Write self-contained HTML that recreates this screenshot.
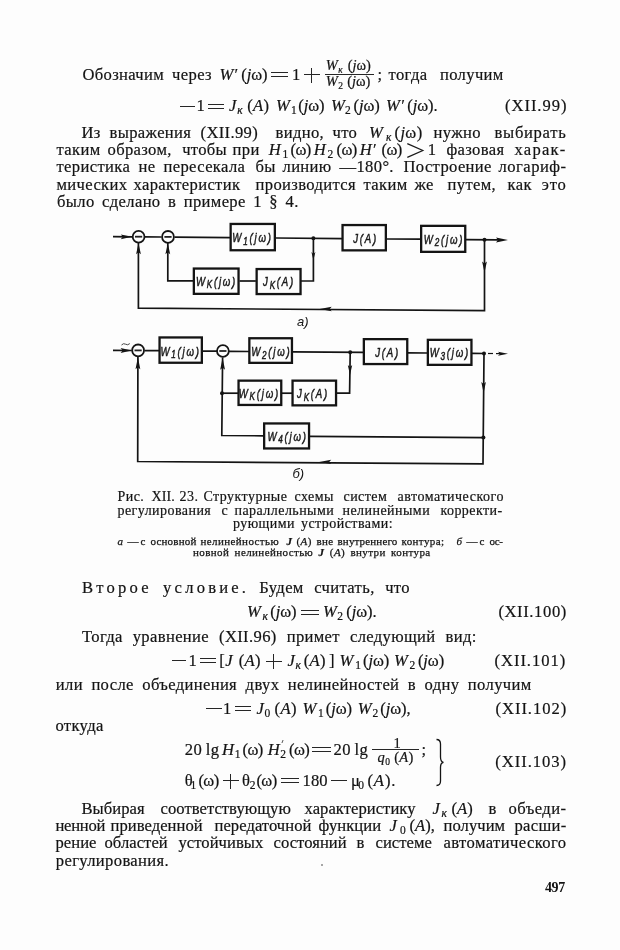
<!DOCTYPE html>
<html><head><meta charset="utf-8">
<style>
html,body{margin:0;padding:0;background:#fdfdfd;}
body{width:620px;height:950px;position:relative;overflow:hidden;font-family:"Liberation Serif",serif;color:#141414;filter:grayscale(1);}
.l{position:absolute;white-space:nowrap;font-size:16.6px;letter-spacing:0.35px;line-height:20px;height:20px;transform-origin:0 15px;transform:scaleY(1.06);-webkit-text-stroke:0.2px #111;}
.j{text-align:justify;text-align-last:justify;white-space:normal;}
i{font-style:italic;}
.s{font-size:11.5px;position:relative;top:3px;}
.jw{letter-spacing:-0.1px;}
.om{letter-spacing:-0.6px;}
.jw2{letter-spacing:0px;}
.r{position:absolute;}
.fr{position:absolute;white-space:nowrap;font-size:14.5px;letter-spacing:0.3px;line-height:16px;height:16px;-webkit-text-stroke:0.2px #141414;}
.fs{font-size:9.5px;position:relative;top:2.5px;}
.c{position:absolute;white-space:nowrap;font-size:14px;letter-spacing:0.45px;line-height:16px;height:16px;-webkit-text-stroke:0.2px #141414;}
.cs{position:absolute;white-space:nowrap;font-size:11px;letter-spacing:0.4px;line-height:14px;height:14px;-webkit-text-stroke:0.25px #141414;}
.cj{text-align:justify;text-align-last:justify;white-space:normal;}
.pg{position:absolute;font-size:14px;font-weight:bold;line-height:16px;}
svg{position:absolute;left:0;top:0;}
</style></head><body>
<div class="l" style="left:82.4px;top:64.7px;word-spacing:3.5px">Обозначим через</div>
<div class="l" style="left:219.4px;top:64.7px;"><i>W′</i></div>
<div class="l" style="left:241.2px;top:64.7px;"><span class="jw">(<i>j</i>ω)</span></div>
<div class="r" style="left:271px;top:72px;width:16.5px;height:1.1px;background:#262626"></div>
<div class="r" style="left:271px;top:76px;width:16.5px;height:1.1px;background:#262626"></div>
<div class="l" style="left:292px;top:64.7px;">1</div>
<div class="r" style="left:304px;top:74px;width:15.7px;height:1.1px;background:#262626"></div>
<div class="r" style="left:311px;top:67.5px;width:1.1px;height:15.3px;background:#262626"></div>
<div class="fr" style="left:325.8px;top:57.3px;"><i>W</i><span class="fs"><i>к</i></span></div>
<div class="fr" style="left:347.7px;top:57.3px;"><span class="jw2">(<i>j</i>ω)</span></div>
<div class="r" style="left:325.2px;top:74px;width:49.0px;height:1.1px;background:#262626"></div>
<div class="fr" style="left:325.8px;top:73.3px;"><i>W</i><span class="fs">2</span></div>
<div class="fr" style="left:347.2px;top:73.3px;"><span class="jw2">(<i>j</i>ω)</span></div>
<div class="l" style="left:377.4px;top:64.7px;">;</div>
<div class="l" style="left:388.6px;top:64.7px;word-spacing:8px">тогда получим</div>
<div class="r" style="left:180px;top:106px;width:14.5px;height:1.1px;background:#262626"></div>
<div class="l" style="left:196.5px;top:96.2px;">1</div>
<div class="r" style="left:207.8px;top:104px;width:16.4px;height:1.1px;background:#262626"></div>
<div class="r" style="left:207.8px;top:108px;width:16.4px;height:1.1px;background:#262626"></div>
<div class="l" style="left:229px;top:96.2px;"><i>J</i></div>
<div class="l" style="left:237.3px;top:96.2px;"><span class="s"><i>к</i></span></div>
<div class="l" style="left:247.2px;top:96.2px;">(<i>A</i>)</div>
<div class="l" style="left:276px;top:96.2px;"><i>W</i></div>
<div class="l" style="left:291px;top:96.2px;"><span class="s">1</span></div>
<div class="l" style="left:298.2px;top:96.2px;"><span class="jw">(<i>j</i>ω)</span></div>
<div class="l" style="left:331px;top:96.2px;"><i>W</i></div>
<div class="l" style="left:345px;top:96.2px;"><span class="s">2</span></div>
<div class="l" style="left:353.6px;top:96.2px;"><span class="jw">(<i>j</i>ω)</span></div>
<div class="l" style="left:386px;top:96.2px;"><i>W′</i></div>
<div class="l" style="left:407.2px;top:96.2px;"><span class="jw">(<i>j</i>ω)</span>.</div>
<div class="l" style="left:505px;top:96.2px;letter-spacing:0.95px">(XII.99)</div>
<div class="l" style="left:81.5px;top:123.1px;letter-spacing:0.35px;">Из</div>
<div class="l" style="left:109.5px;top:123.1px;letter-spacing:0.35px;">выражения</div>
<div class="l" style="left:200.5px;top:123.1px;letter-spacing:0.35px;">(XII.99)</div>
<div class="l" style="left:275.5px;top:123.1px;letter-spacing:0.35px;">видно,</div>
<div class="l" style="left:332.5px;top:123.1px;letter-spacing:0.35px;">что</div>
<div class="l" style="left:369.0px;top:123.1px;letter-spacing:0.35px;"><i>W</i></div>
<div class="l" style="left:386.0px;top:123.1px;letter-spacing:0.35px;"><span class="s"><i>к</i></span></div>
<div class="l" style="left:394.5px;top:123.1px;letter-spacing:0.35px;">(<i>j</i>ω)</div>
<div class="l" style="left:433.5px;top:123.1px;letter-spacing:0.35px;">нужно</div>
<div class="l" style="left:494.5px;top:123.1px;letter-spacing:0.70px;">выбирать</div>
<div class="l" style="left:56.5px;top:140.3px;letter-spacing:0.35px;">таким</div>
<div class="l" style="left:107.5px;top:140.3px;letter-spacing:0.35px;">образом,</div>
<div class="l" style="left:182.2px;top:140.3px;letter-spacing:0.30px;">чтобы</div>
<div class="l" style="left:232.5px;top:140.3px;letter-spacing:0.35px;">при</div>
<div class="l" style="left:268.7px;top:140.3px;letter-spacing:0.35px;"><i>H</i></div>
<div class="l" style="left:282.5px;top:140.3px;letter-spacing:0.35px;"><span class="s">1</span></div>
<div class="l" style="left:290.5px;top:140.3px;letter-spacing:0.35px;"><span class="om">(ω)</span></div>
<div class="l" style="left:313.7px;top:140.3px;letter-spacing:0.35px;"><i>H</i></div>
<div class="l" style="left:327.5px;top:140.3px;letter-spacing:0.35px;"><span class="s">2</span></div>
<div class="l" style="left:336.5px;top:140.3px;letter-spacing:0.35px;"><span class="om">(ω)</span></div>
<div class="l" style="left:359.7px;top:140.3px;letter-spacing:0.35px;"><i>H′</i></div>
<div class="l" style="left:381.5px;top:140.3px;letter-spacing:0.35px;"><span class="om">(ω)</span></div>
<div class="l" style="left:427.8px;top:140.3px;letter-spacing:0.35px;">1</div>
<div class="l" style="left:446.5px;top:140.3px;letter-spacing:0.35px;">фазовая</div>
<div class="l" style="left:514.5px;top:140.3px;letter-spacing:1.22px;">харак-</div>
<div class="l" style="left:56.5px;top:157.4px;letter-spacing:0.35px;">теристика</div>
<div class="l" style="left:138.5px;top:157.4px;letter-spacing:0.35px;">не</div>
<div class="l" style="left:163.5px;top:157.4px;letter-spacing:0.35px;">пересекала</div>
<div class="l" style="left:255.5px;top:157.4px;letter-spacing:0.35px;">бы</div>
<div class="l" style="left:282.5px;top:157.4px;letter-spacing:0.35px;">линию</div>
<div class="l" style="left:339.5px;top:157.4px;letter-spacing:0.35px;">—180°.</div>
<div class="l" style="left:403.5px;top:157.4px;letter-spacing:0.35px;">Построение</div>
<div class="l" style="left:498.5px;top:157.4px;letter-spacing:0.47px;">логариф-</div>
<div class="l" style="left:56.5px;top:174.5px;letter-spacing:0.35px;">мических</div>
<div class="l" style="left:133.5px;top:174.5px;letter-spacing:0.35px;">характеристик</div>
<div class="l" style="left:255.5px;top:174.5px;letter-spacing:0.35px;">производится</div>
<div class="l" style="left:363.5px;top:174.5px;letter-spacing:0.35px;">таким</div>
<div class="l" style="left:414.5px;top:174.5px;letter-spacing:0.35px;">же</div>
<div class="l" style="left:447.5px;top:174.5px;letter-spacing:0.35px;">путем,</div>
<div class="l" style="left:507.5px;top:174.5px;letter-spacing:0.35px;">как</div>
<div class="l" style="left:541.8px;top:174.5px;letter-spacing:0.75px;">это</div>
<svg width="20" height="20" style="position:absolute;left:405px;top:140px" viewBox="405 140 20 20"><path d="M407.3,143.6 L422.8,150.5 L407.3,157.4" fill="none" stroke="#1a1a1a" stroke-width="1.25"/></svg>
<div class="l" style="left:57px;top:191.6px;word-spacing:3px">было сделано в примере 1 § 4.</div>
<div class="c" style="left:117.5px;top:488.7px;letter-spacing:0.45px;">Рис.</div>
<div class="c" style="left:151.5px;top:488.7px;letter-spacing:0.14px;">XII.</div>
<div class="c" style="left:179.5px;top:488.7px;letter-spacing:0.45px;">23.</div>
<div class="c" style="left:203.5px;top:488.7px;letter-spacing:0.45px;">Структурные</div>
<div class="c" style="left:294.5px;top:488.7px;letter-spacing:0.45px;">схемы</div>
<div class="c" style="left:343.5px;top:488.7px;letter-spacing:0.45px;">систем</div>
<div class="c" style="left:397.5px;top:488.7px;letter-spacing:0.52px;">автоматического</div>
<div class="c" style="left:117.5px;top:502.7px;letter-spacing:0.45px;">регулирования</div>
<div class="c" style="left:221.5px;top:502.7px;letter-spacing:0.45px;">с</div>
<div class="c" style="left:234.5px;top:502.7px;letter-spacing:0.45px;">параллельными</div>
<div class="c" style="left:342.5px;top:502.7px;letter-spacing:0.45px;">нелинейными</div>
<div class="c" style="left:440.5px;top:502.7px;letter-spacing:0.42px;">корректи-</div>
<div class="c" style="left:233px;top:516.0px;word-spacing:2px">рующими устройствами:</div>
<div class="cs" style="left:117.5px;top:534.2px;letter-spacing:0.40px;"><i>а</i></div>
<div class="cs" style="left:127.5px;top:534.2px;letter-spacing:-0.80px;">—</div>
<div class="cs" style="left:140.5px;top:534.2px;letter-spacing:0.40px;">с</div>
<div class="cs" style="left:150.5px;top:534.2px;letter-spacing:0.19px;">основной</div>
<div class="cs" style="left:200.5px;top:534.2px;letter-spacing:0.40px;">нелинейностью</div>
<div class="cs" style="left:286.5px;top:534.2px;letter-spacing:0.40px;"><b><i>J</i></b></div>
<div class="cs" style="left:296.5px;top:534.2px;letter-spacing:0.40px;">(<i>A</i>)</div>
<div class="cs" style="left:316.5px;top:534.2px;letter-spacing:0.35px;">вне</div>
<div class="cs" style="left:337.5px;top:534.2px;letter-spacing:0.15px;">внутреннего</div>
<div class="cs" style="left:401.5px;top:534.2px;letter-spacing:0.40px;">контура;</div>
<div class="cs" style="left:456.5px;top:534.2px;letter-spacing:0.40px;"><i>б</i></div>
<div class="cs" style="left:466.5px;top:534.2px;letter-spacing:-0.80px;">—</div>
<div class="cs" style="left:479.5px;top:534.2px;letter-spacing:0.40px;">с</div>
<div class="cs" style="left:489.5px;top:534.2px;letter-spacing:-0.44px;">ос-</div>
<div class="cs" style="left:193px;top:544.5px;word-spacing:2.2px">новной нелинейностью <b><i>J</i></b> (<i>A</i>) внутри контура</div>
<div class="l" style="left:82px;top:578.3px;letter-spacing:3.2px;word-spacing:4px">Второе условие<span style="letter-spacing:0">.</span></div>
<div class="l" style="left:259.3px;top:578.3px;word-spacing:6px">Будем считать, что</div>
<div class="l" style="left:247.1px;top:602.3px;"><i>W</i></div>
<div class="l" style="left:262.6px;top:602.3px;"><span class="s"><i>к</i></span></div>
<div class="l" style="left:270.3px;top:602.3px;"><span class="jw">(<i>j</i>ω)</span></div>
<div class="r" style="left:301.3px;top:610px;width:17.4px;height:1.1px;background:#262626"></div>
<div class="r" style="left:301.3px;top:614px;width:17.4px;height:1.1px;background:#262626"></div>
<div class="l" style="left:323px;top:602.3px;"><i>W</i></div>
<div class="l" style="left:337.3px;top:602.3px;"><span class="s">2</span></div>
<div class="l" style="left:346.2px;top:602.3px;"><span class="jw">(<i>j</i>ω)</span>.</div>
<div class="l" style="left:498.4px;top:602.3px;letter-spacing:0.6px">(XII.100)</div>
<div class="l" style="left:82px;top:626.9px;word-spacing:5.5px">Тогда уравнение (XII.96) примет следующий вид:</div>
<div class="r" style="left:172px;top:660px;width:13.7px;height:1.1px;background:#262626"></div>
<div class="l" style="left:188.5px;top:651.1px;">1</div>
<div class="r" style="left:199.5px;top:658px;width:16.9px;height:1.1px;background:#262626"></div>
<div class="r" style="left:199.5px;top:662px;width:16.9px;height:1.1px;background:#262626"></div>
<div class="l" style="left:219.3px;top:651.1px;">[<i>J</i></div>
<div class="l" style="left:238.7px;top:651.1px;">(<i>A</i>)</div>
<div class="r" style="left:266px;top:661px;width:15.8px;height:1.1px;background:#262626"></div>
<div class="r" style="left:273px;top:653.9px;width:1.1px;height:15.3px;background:#262626"></div>
<div class="l" style="left:287.4px;top:651.1px;"><i>J</i></div>
<div class="l" style="left:295.5px;top:651.1px;"><span class="s"><i>к</i></span></div>
<div class="l" style="left:303.7px;top:651.1px;">(<i>A</i>)</div>
<div class="l" style="left:329px;top:651.1px;">]</div>
<div class="l" style="left:339.6px;top:651.1px;"><i>W</i></div>
<div class="l" style="left:355.3px;top:651.1px;"><span class="s">1</span></div>
<div class="l" style="left:363px;top:651.1px;"><span class="jw">(<i>j</i>ω)</span></div>
<div class="l" style="left:394px;top:651.1px;"><i>W</i></div>
<div class="l" style="left:409.4px;top:651.1px;"><span class="s">2</span></div>
<div class="l" style="left:417.9px;top:651.1px;"><span class="jw">(<i>j</i>ω)</span></div>
<div class="l" style="left:494.5px;top:651.1px;letter-spacing:0.95px">(XII.101)</div>
<div class="l" style="left:55.8px;top:675.2px;word-spacing:4px">или после объединения двух нелинейностей в одну получим</div>
<div class="r" style="left:206.3px;top:708px;width:15.5px;height:1.1px;background:#262626"></div>
<div class="l" style="left:223px;top:698.7px;">1</div>
<div class="r" style="left:235.3px;top:706px;width:16.0px;height:1.1px;background:#262626"></div>
<div class="r" style="left:235.3px;top:710px;width:16.0px;height:1.1px;background:#262626"></div>
<div class="l" style="left:256.4px;top:698.7px;"><i>J</i></div>
<div class="l" style="left:264.5px;top:698.7px;"><span class="s">0</span></div>
<div class="l" style="left:274.5px;top:698.7px;">(<i>A</i>)</div>
<div class="l" style="left:302.6px;top:698.7px;"><i>W</i></div>
<div class="l" style="left:318px;top:698.7px;"><span class="s">1</span></div>
<div class="l" style="left:325.8px;top:698.7px;"><span class="jw">(<i>j</i>ω)</span></div>
<div class="l" style="left:357.8px;top:698.7px;"><i>W</i></div>
<div class="l" style="left:372.5px;top:698.7px;"><span class="s">2</span></div>
<div class="l" style="left:380.3px;top:698.7px;"><span class="jw">(<i>j</i>ω)</span>,</div>
<div class="l" style="left:495.5px;top:698.7px;letter-spacing:0.95px">(XII.102)</div>
<div class="l" style="left:55.4px;top:715.8px;">откуда</div>
<div class="l" style="left:184.8px;top:739.8px;">20</div>
<div class="l" style="left:205.8px;top:739.8px;">lg</div>
<div class="l" style="left:221.9px;top:739.8px;"><i>H</i></div>
<div class="l" style="left:234.8px;top:739.8px;"><span class="s">1</span></div>
<div class="l" style="left:242.6px;top:739.8px;"><span class="om">(ω)</span></div>
<div class="l" style="left:267.7px;top:739.8px;"><i>H</i></div>
<div class="l" style="left:280.3px;top:739.8px;"><span class="s">2</span></div>
<div class="l" style="left:289px;top:739.8px;"><span class="om">(ω)</span></div>
<div class="r" style="left:281.6px;top:739.5px;width:1px;height:3px;background:#555;transform:skewX(-20deg)"></div>
<div class="r" style="left:312.3px;top:747px;width:18.3px;height:1.1px;background:#262626"></div>
<div class="r" style="left:312.3px;top:751px;width:18.3px;height:1.1px;background:#262626"></div>
<div class="l" style="left:333.5px;top:739.8px;">20</div>
<div class="l" style="left:354.5px;top:739.8px;">lg</div>
<div class="fr" style="left:393.5px;top:734.8px;">1</div>
<div class="r" style="left:372.4px;top:749px;width:46.9px;height:1.1px;background:#262626"></div>
<div class="fr" style="left:377.6px;top:749.4px;"><i>q</i><span class="fs">0</span> (<i>A</i>)</div>
<div class="l" style="left:421.6px;top:739.8px;">;</div>
<div class="l" style="left:184.8px;top:770.7px;">θ</div>
<div class="l" style="left:190.6px;top:770.7px;"><span class="s">1</span></div>
<div class="l" style="left:198.4px;top:770.7px;"><span class="om">(ω)</span></div>
<div class="r" style="left:223px;top:780px;width:16.0px;height:1.1px;background:#262626"></div>
<div class="r" style="left:230px;top:773.5px;width:1.1px;height:15.3px;background:#262626"></div>
<div class="l" style="left:242px;top:770.7px;">θ</div>
<div class="l" style="left:249.7px;top:770.7px;"><span class="s">2</span></div>
<div class="l" style="left:256.4px;top:770.7px;"><span class="om">(ω)</span></div>
<div class="r" style="left:280.6px;top:778px;width:18.1px;height:1.1px;background:#262626"></div>
<div class="r" style="left:280.6px;top:782px;width:18.1px;height:1.1px;background:#262626"></div>
<div class="l" style="left:302.6px;top:770.7px;letter-spacing:0">180</div>
<div class="r" style="left:330.8px;top:780px;width:16.0px;height:1.1px;background:#262626"></div>
<div class="l" style="left:351px;top:770.7px;">μ</div>
<div class="l" style="left:358.3px;top:770.7px;"><span class="s">0</span></div>
<div class="l" style="left:367.4px;top:770.7px;letter-spacing:0.9px">(<i>A</i>).</div>
<div class="l" style="left:495.3px;top:751.8px;letter-spacing:0.95px">(XII.103)</div>
<svg class="br" width="20" height="60" style="position:absolute;left:430px;top:735px" viewBox="430 735 20 60"><path d="M436.5,739.5 Q440.5,739.5 440.5,744 L440.5,757 Q440.5,762 443.5,762.3 Q440.5,762.6 440.5,767.5 L440.5,781 Q440.5,785.5 436.5,785.5" fill="none" stroke="#141414" stroke-width="1.3"/></svg>
<div class="l" style="left:81.5px;top:799.2px;letter-spacing:0.05px;">Выбирая</div>
<div class="l" style="left:160.5px;top:799.2px;letter-spacing:0.05px;">соответствующую</div>
<div class="l" style="left:304.5px;top:799.2px;letter-spacing:0.05px;">характеристику</div>
<div class="l" style="left:432.5px;top:799.2px;letter-spacing:0.05px;"><i>J</i></div>
<div class="l" style="left:441.5px;top:799.2px;letter-spacing:0.05px;"><span class="s"><i>к</i></span></div>
<div class="l" style="left:451.5px;top:799.2px;letter-spacing:0.05px;">(<i>A</i>)</div>
<div class="l" style="left:488.5px;top:799.2px;letter-spacing:0.05px;">в</div>
<div class="l" style="left:508.5px;top:799.2px;letter-spacing:0.44px;">объеди-</div>
<div class="l" style="left:55.5px;top:816.4px;letter-spacing:-0.28px;">ненной</div>
<div class="l" style="left:110.5px;top:816.4px;letter-spacing:0.05px;">приведенной</div>
<div class="l" style="left:214.5px;top:816.4px;letter-spacing:0.05px;">передаточной</div>
<div class="l" style="left:318.5px;top:816.4px;letter-spacing:0.05px;">функции</div>
<div class="l" style="left:389.5px;top:816.4px;letter-spacing:0.05px;"><i>J</i></div>
<div class="l" style="left:400.0px;top:816.4px;letter-spacing:0.05px;"><span class="s">0</span></div>
<div class="l" style="left:409.5px;top:816.4px;letter-spacing:0.05px;">(<i>A</i>),</div>
<div class="l" style="left:443.5px;top:816.4px;letter-spacing:0.05px;">получим</div>
<div class="l" style="left:514.5px;top:816.4px;letter-spacing:0.30px;">расши-</div>
<div class="l" style="left:55.5px;top:833.4px;letter-spacing:0.05px;">рение</div>
<div class="l" style="left:104.5px;top:833.4px;letter-spacing:0.05px;">областей</div>
<div class="l" style="left:178.5px;top:833.4px;letter-spacing:0.05px;">устойчивых</div>
<div class="l" style="left:273.5px;top:833.4px;letter-spacing:0.05px;">состояний</div>
<div class="l" style="left:356.5px;top:833.4px;letter-spacing:0.05px;">в</div>
<div class="l" style="left:375.5px;top:833.4px;letter-spacing:0.05px;">системе</div>
<div class="l" style="left:443.5px;top:833.4px;letter-spacing:0.40px;">автоматического</div>
<div class="l" style="left:55.8px;top:850.8px;">регулирования.</div>
<div class="r" style="left:320.5px;top:864px;width:2px;height:1.6px;background:#888;border-radius:1px"></div>
<div class="pg" style="left:545px;top:880px;letter-spacing:-0.4px">497</div>
<svg width="620" height="950" viewBox="0 0 620 950" id="dg">
<path d="M113.0,236.6 L132.0,236.8" fill="none" stroke="#141414" stroke-width="1.7" stroke-linejoin="miter"/>
<path d="M145.0,236.9 L161.5,237.0" fill="none" stroke="#141414" stroke-width="1.7" stroke-linejoin="miter"/>
<path d="M174.5,237.1 L230.0,237.6" fill="none" stroke="#141414" stroke-width="1.7" stroke-linejoin="miter"/>
<path d="M276.0,238.0 L342.0,238.6" fill="none" stroke="#141414" stroke-width="1.7" stroke-linejoin="miter"/>
<path d="M386.5,239.0 L421.0,239.2" fill="none" stroke="#141414" stroke-width="1.7" stroke-linejoin="miter"/>
<path d="M465.5,239.6 L498.0,239.9" fill="none" stroke="#141414" stroke-width="1.7" stroke-linejoin="miter"/>
<path d="M131.8,236.8 L120.8,234.4 L122.8,236.8 L120.8,239.2Z" fill="#141414"/>
<path d="M508.0,240.0 L496.0,237.6 L498.0,240.0 L496.0,242.4Z" fill="#141414"/>
<circle cx="138.6" cy="236.7" r="5.9" fill="#fdfdfd" stroke="#141414" stroke-width="1.8"/>
<path d="M135.0,236.7 L142.2,236.7" stroke="#222" stroke-width="1.8"/>
<circle cx="168" cy="236.9" r="5.9" fill="#fdfdfd" stroke="#141414" stroke-width="1.8"/>
<path d="M164.4,236.9 L171.6,236.9" stroke="#222" stroke-width="1.8"/>
<rect x="230.65" y="223.95" width="44.20" height="26.30" fill="#fdfdfd" stroke="#141414" stroke-width="2.3"/>
<rect x="342.55" y="225.05" width="43.30" height="25.30" fill="#fdfdfd" stroke="#141414" stroke-width="2.3"/>
<rect x="421.15" y="225.85" width="44.10" height="26.00" fill="#fdfdfd" stroke="#141414" stroke-width="2.3"/>
<rect x="193.85" y="268.55" width="44.70" height="25.30" fill="#fdfdfd" stroke="#141414" stroke-width="2.3"/>
<rect x="256.65" y="269.05" width="43.90" height="25.00" fill="#fdfdfd" stroke="#141414" stroke-width="2.3"/>
<circle cx="313.4" cy="238.32344" r="2.0" fill="#141414"/>
<circle cx="484.5" cy="239.79489999999998" r="2.0" fill="#141414"/>
<path d="M313.4,238.3 L313.4,281.0 L301.0,281.0" fill="none" stroke="#141414" stroke-width="1.7" stroke-linejoin="miter"/>
<path d="M313.4,260.0 L311.4,252.0 L313.4,254.0 L315.4,252.0Z" fill="#141414"/>
<path d="M239.5,281.0 L256.0,281.0" fill="none" stroke="#141414" stroke-width="1.7" stroke-linejoin="miter"/>
<path d="M193.0,280.8 L167.8,280.8 L167.8,243.0" fill="none" stroke="#141414" stroke-width="1.7" stroke-linejoin="miter"/>
<path d="M167.8,243.2 L165.4,254.2 L167.8,252.2 L170.2,254.2Z" fill="#141414"/>
<path d="M484.5,239.8 L484.5,310.6 L138.4,308.2 L138.4,243.0" fill="none" stroke="#141414" stroke-width="1.7" stroke-linejoin="miter"/>
<path d="M484.5,272.6 L482.1,261.6 L484.5,263.6 L486.9,261.6Z" fill="#141414"/>
<path d="M319.7,309.0 L331.7,306.8 L329.7,309.0 L331.7,311.2Z" fill="#141414"/>
<path d="M138.5,243.2 L136.1,254.2 L138.5,252.2 L140.9,254.2Z" fill="#141414"/>
<text x="297" y="326" font-family="Liberation Sans" font-style="italic" font-size="13" fill="#141414">а)</text>
<text x="0" y="0" transform="translate(252.5,242) scale(0.74,1)" text-anchor="middle" font-family="Liberation Sans" font-style="italic" font-size="13" letter-spacing="2.4" fill="#1a1a1a" stroke="#1a1a1a" stroke-width="0.5">W<tspan font-size="11.0" dy="2.8">1</tspan><tspan dy="-2.8">(jω)</tspan></text>
<text x="0" y="0" transform="translate(365.5,242.5) scale(0.74,1)" text-anchor="middle" font-family="Liberation Sans" font-style="italic" font-size="13" letter-spacing="2.4" fill="#1a1a1a" stroke="#1a1a1a" stroke-width="0.5">J(A)</text>
<text x="0" y="0" transform="translate(444,243.5) scale(0.74,1)" text-anchor="middle" font-family="Liberation Sans" font-style="italic" font-size="13" letter-spacing="2.4" fill="#1a1a1a" stroke="#1a1a1a" stroke-width="0.5">W<tspan font-size="11.0" dy="2.8">2</tspan><tspan dy="-2.8">(jω)</tspan></text>
<text x="0" y="0" transform="translate(216.5,285.5) scale(0.74,1)" text-anchor="middle" font-family="Liberation Sans" font-style="italic" font-size="13" letter-spacing="2.4" fill="#1a1a1a" stroke="#1a1a1a" stroke-width="0.5">W<tspan font-size="11.0" dy="2.8">K</tspan><tspan dy="-2.8">(jω)</tspan></text>
<text x="0" y="0" transform="translate(279,286) scale(0.74,1)" text-anchor="middle" font-family="Liberation Sans" font-style="italic" font-size="13" letter-spacing="2.4" fill="#1a1a1a" stroke="#1a1a1a" stroke-width="0.5">J<tspan font-size="11.0" dy="2.8">K</tspan><tspan dy="-2.8">(A)</tspan></text>
<path d="M113.0,350.3 L131.8,350.5" fill="none" stroke="#141414" stroke-width="1.7" stroke-linejoin="miter"/>
<path d="M144.5,350.6 L159.0,350.7" fill="none" stroke="#141414" stroke-width="1.7" stroke-linejoin="miter"/>
<path d="M202.5,351.1 L217.0,351.2" fill="none" stroke="#141414" stroke-width="1.7" stroke-linejoin="miter"/>
<path d="M229.0,351.3 L249.0,351.5" fill="none" stroke="#141414" stroke-width="1.7" stroke-linejoin="miter"/>
<path d="M292.5,351.8 L363.0,352.4" fill="none" stroke="#141414" stroke-width="1.7" stroke-linejoin="miter"/>
<path d="M408.0,352.8 L427.0,353.0" fill="none" stroke="#141414" stroke-width="1.7" stroke-linejoin="miter"/>
<path d="M472.0,353.4 L485.0,353.5" fill="none" stroke="#141414" stroke-width="1.7" stroke-linejoin="miter"/>
<path d="M488.0,353.5 L493.0,353.5" fill="none" stroke="#141414" stroke-width="1.2" stroke-linejoin="miter"/>
<path d="M496.0,353.6 L500.0,353.6" fill="none" stroke="#141414" stroke-width="1.2" stroke-linejoin="miter"/>
<path d="M508.0,353.7 L498.0,351.7 L500.0,353.7 L498.0,355.7Z" fill="#141414"/>
<path d="M131.6,350.5 L120.6,348.1 L122.6,350.5 L120.6,352.9Z" fill="#141414"/>
<path d="M121.5,345 Q123.5,342.8 125.6,344.2 Q127.6,345.6 129.8,343.6" fill="none" stroke="#444" stroke-width="1"/>
<circle cx="138.1" cy="350.4" r="5.9" fill="#fdfdfd" stroke="#141414" stroke-width="1.8"/>
<path d="M134.5,350.4 L141.7,350.4" stroke="#222" stroke-width="1.8"/>
<circle cx="222.9" cy="351.0" r="5.9" fill="#fdfdfd" stroke="#141414" stroke-width="1.8"/>
<path d="M219.3,351.0 L226.5,351.0" stroke="#222" stroke-width="1.8"/>
<rect x="159.55" y="337.45" width="42.30" height="25.30" fill="#fdfdfd" stroke="#141414" stroke-width="2.3"/>
<rect x="249.35" y="338.25" width="42.60" height="24.60" fill="#fdfdfd" stroke="#141414" stroke-width="2.3"/>
<rect x="363.85" y="339.15" width="43.40" height="24.90" fill="#fdfdfd" stroke="#141414" stroke-width="2.3"/>
<rect x="427.85" y="339.85" width="43.60" height="25.00" fill="#fdfdfd" stroke="#141414" stroke-width="2.3"/>
<rect x="238.55" y="380.65" width="42.70" height="24.30" fill="#fdfdfd" stroke="#141414" stroke-width="2.3"/>
<rect x="292.55" y="380.65" width="43.50" height="24.70" fill="#fdfdfd" stroke="#141414" stroke-width="2.3"/>
<rect x="264.15" y="423.45" width="44.90" height="25.00" fill="#fdfdfd" stroke="#141414" stroke-width="2.3"/>
<circle cx="350.2" cy="352.31620000000004" r="2.0" fill="#141414"/>
<circle cx="484" cy="353.4535" r="2.0" fill="#141414"/>
<circle cx="483.4" cy="437.6" r="2.0" fill="#141414"/>
<circle cx="222" cy="393.2" r="2.0" fill="#141414"/>
<path d="M484.0,353.5 L483.0,463.9 L137.7,461.5 L137.9,357.0" fill="none" stroke="#141414" stroke-width="1.7" stroke-linejoin="miter"/>
<path d="M483.4,437.6 L310.0,436.4" fill="none" stroke="#141414" stroke-width="1.7" stroke-linejoin="miter"/>
<path d="M263.5,435.8 L221.8,435.5 L222.6,357.5" fill="none" stroke="#141414" stroke-width="1.7" stroke-linejoin="miter"/>
<path d="M222.0,393.2 L238.0,393.2" fill="none" stroke="#141414" stroke-width="1.7" stroke-linejoin="miter"/>
<path d="M282.0,393.2 L292.0,393.2" fill="none" stroke="#141414" stroke-width="1.7" stroke-linejoin="miter"/>
<path d="M337.0,393.2 L349.6,393.2 L350.2,352.3" fill="none" stroke="#141414" stroke-width="1.7" stroke-linejoin="miter"/>
<path d="M350.0,375.0 L347.8,365.0 L350.0,367.0 L352.2,365.0Z" fill="#141414"/>
<path d="M483.6,393.0 L481.3,382.0 L483.6,384.0 L485.9,382.0Z" fill="#141414"/>
<path d="M319.2,461.9 L331.2,459.7 L329.2,461.9 L331.2,464.1Z" fill="#141414"/>
<path d="M137.9,357.2 L135.5,369.2 L137.9,367.2 L140.3,369.2Z" fill="#141414"/>
<path d="M222.6,357.8 L220.2,369.8 L222.6,367.8 L225.0,369.8Z" fill="#141414"/>
<text x="292.5" y="477.5" font-family="Liberation Sans" font-style="italic" font-size="13" fill="#141414">б)</text>
<text x="0" y="0" transform="translate(180.6,355.5) scale(0.74,1)" text-anchor="middle" font-family="Liberation Sans" font-style="italic" font-size="13" letter-spacing="2.4" fill="#1a1a1a" stroke="#1a1a1a" stroke-width="0.5">W<tspan font-size="11.0" dy="2.8">1</tspan><tspan dy="-2.8">(jω)</tspan></text>
<text x="0" y="0" transform="translate(271.3,356) scale(0.74,1)" text-anchor="middle" font-family="Liberation Sans" font-style="italic" font-size="13" letter-spacing="2.4" fill="#1a1a1a" stroke="#1a1a1a" stroke-width="0.5">W<tspan font-size="11.0" dy="2.8">2</tspan><tspan dy="-2.8">(jω)</tspan></text>
<text x="0" y="0" transform="translate(387.5,356.5) scale(0.74,1)" text-anchor="middle" font-family="Liberation Sans" font-style="italic" font-size="13" letter-spacing="2.4" fill="#1a1a1a" stroke="#1a1a1a" stroke-width="0.5">J(A)</text>
<text x="0" y="0" transform="translate(449.8,357) scale(0.74,1)" text-anchor="middle" font-family="Liberation Sans" font-style="italic" font-size="13" letter-spacing="2.4" fill="#1a1a1a" stroke="#1a1a1a" stroke-width="0.5">W<tspan font-size="11.0" dy="2.8">3</tspan><tspan dy="-2.8">(jω)</tspan></text>
<text x="0" y="0" transform="translate(259.3,397.5) scale(0.74,1)" text-anchor="middle" font-family="Liberation Sans" font-style="italic" font-size="13" letter-spacing="2.4" fill="#1a1a1a" stroke="#1a1a1a" stroke-width="0.5">W<tspan font-size="11.0" dy="2.8">K</tspan><tspan dy="-2.8">(jω)</tspan></text>
<text x="0" y="0" transform="translate(313,398) scale(0.74,1)" text-anchor="middle" font-family="Liberation Sans" font-style="italic" font-size="13" letter-spacing="2.4" fill="#1a1a1a" stroke="#1a1a1a" stroke-width="0.5">J<tspan font-size="11.0" dy="2.8">K</tspan><tspan dy="-2.8">(A)</tspan></text>
<text x="0" y="0" transform="translate(287.6,440.5) scale(0.74,1)" text-anchor="middle" font-family="Liberation Sans" font-style="italic" font-size="13" letter-spacing="2.4" fill="#1a1a1a" stroke="#1a1a1a" stroke-width="0.5">W<tspan font-size="11.0" dy="2.8">4</tspan><tspan dy="-2.8">(jω)</tspan></text>
</svg>
</body></html>
